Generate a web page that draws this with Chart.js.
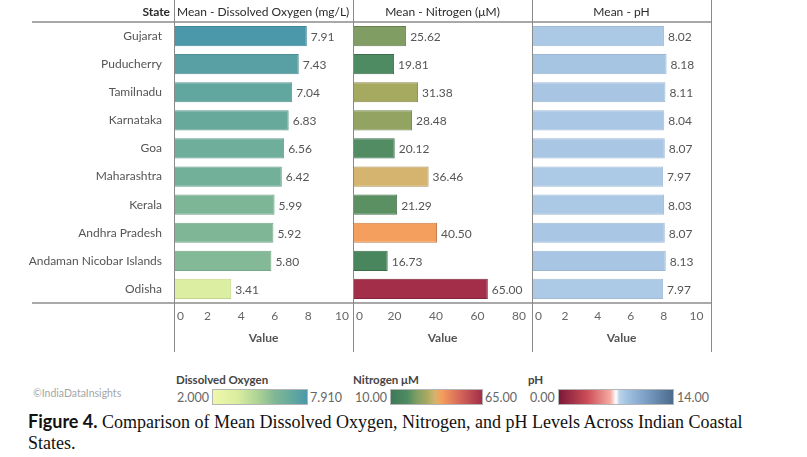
<!DOCTYPE html>
<html>
<head>
<meta charset="utf-8">
<script src="https://cdn.jsdelivr.net/npm/chart.js@4.4.1/dist/chart.umd.min.js"></script>
<style>
html,body{margin:0;padding:0;background:#fff;}
body{width:807px;height:457px;overflow:hidden;position:relative;font-family:Lato,"Noto Sans",sans-serif;}
canvas{position:absolute;top:0;}
.hl{position:absolute;height:2px;background:#a9a9a9;left:32px;width:680px;}
.vl{position:absolute;width:1px;background:#8a8a8a;top:0;height:352px;}
.t{position:absolute;white-space:nowrap;line-height:16px;}
.hdr{top:4px;font-size:12px;color:#2b2b2b;}
.lgt{top:372px;font-size:11.5px;font-weight:700;color:#444;}
.lgv{top:390px;font-size:12.5px;color:#666;}
.box{position:absolute;top:389px;height:16px;border:1px solid #b5b5b5;box-sizing:border-box;}
.cap{left:28px;font-family:"Liberation Serif","Times New Roman",serif;font-size:18px;color:#111;line-height:22px;}
</style>
</head>
<body>
<canvas id="cDO" width="360" height="360" style="left:0"></canvas>
<canvas id="cN" width="192" height="360" style="left:347px"></canvas>
<canvas id="cPH" width="192" height="360" style="left:526px"></canvas>

<div class="hl" style="top:21px"></div>
<div class="hl" style="top:302px"></div>
<div class="vl" style="left:174px"></div>
<div class="vl" style="left:353px"></div>
<div class="vl" style="left:532px"></div>
<div class="vl" style="left:711px"></div>

<div class="t hdr" style="right:637px;font-weight:700;">State</div>
<div class="t hdr" style="left:177px;">Mean - Dissolved Oxygen (mg/L)</div>
<div class="t hdr" style="left:353px;width:179px;text-align:center;">Mean - Nitrogen (μM)</div>
<div class="t hdr" style="left:532px;width:179px;text-align:center;">Mean - pH</div>

<div class="t" style="left:33px;top:385px;font-size:10.5px;color:#a5a5a5;">©IndiaDataInsights</div>

<div class="t lgt" style="left:176px;">Dissolved Oxygen</div>
<div class="t lgv" style="left:177px;" id="lgDOmin"></div>
<div class="box" id="boxDO" style="left:212px;width:96px;"></div>
<div class="t lgv" style="left:310px;" id="lgDOmax"></div>

<div class="t lgt" style="left:353px;">Nitrogen μM</div>
<div class="t lgv" style="left:355px;" id="lgNmin"></div>
<div class="box" id="boxN" style="left:390px;width:93px;"></div>
<div class="t lgv" style="left:485px;" id="lgNmax"></div>

<div class="t lgt" style="left:528px;">pH</div>
<div class="t lgv" style="left:530px;" id="lgPHmin"></div>
<div class="box" id="boxPH" style="left:558px;width:116px;"></div>
<div class="t lgv" style="left:677px;" id="lgPHmax"></div>

<div class="t cap" style="top:410px;"><span style="font-family:Lato,sans-serif;font-weight:700;">Figure 4.</span> Comparison of Mean Dissolved Oxygen, Nitrogen, and pH Levels Across Indian Coastal</div>
<div class="t cap" style="top:432px;">States.</div>

<script>
// ---------------- data ----------------
const states = ["Gujarat","Puducherry","Tamilnadu","Karnataka","Goa","Maharashtra","Kerala","Andhra Pradesh","Andaman Nicobar Islands","Odisha"];
const dissolvedOxygen = [7.91,7.43,7.04,6.83,6.56,6.42,5.99,5.92,5.80,3.41];
const nitrogen = [25.62,19.81,31.38,28.48,20.12,36.46,21.29,40.50,16.73,65.00];
const phValues = [8.02,8.18,8.11,8.04,8.07,7.97,8.03,8.07,8.13,7.97];

const doTicks = [0,2,4,6,8,10];
const nTicks = [0,20,40,60,80];
const phTicks = [0,2,4,6,8,10];

const doRange = [2.000, 7.910];
const nRange = [10.00, 65.00];
const phRange = [0.00, 14.00];

// ---------------- colour scales ----------------
const doStops = [[0,'#eff7ab'],[0.25,'#dbeea0'],[0.5,'#a8d094'],[0.65,'#81b896'],[0.8,'#6aac9b'],[1,'#4b98aa']];
const nStops = [[0,'#3c7a57'],[0.18,'#4f8b62'],[0.28,'#7f9e64'],[0.39,'#a6a960'],[0.48,'#d3b46e'],[0.55,'#f5a05e'],[0.75,'#d6685a'],[1,'#a32e49']];
const phStops = [[0,'#7c1838'],[0.25,'#cc4e58'],[0.45,'#f5aaa2'],[0.5,'#ffffff'],[0.53,'#bcd3eb'],[0.6,'#a0c1e1'],[0.8,'#7396bd'],[1,'#4b6a8b']];

function hex2rgb(h){return [parseInt(h.substr(1,2),16),parseInt(h.substr(3,2),16),parseInt(h.substr(5,2),16)];}
function colorAt(stops,t){
  t=Math.max(0,Math.min(1,t));
  for(let i=1;i<stops.length;i++){
    if(t<=stops[i][0]){
      const a=stops[i-1],b=stops[i];const f=(t-a[0])/(b[0]-a[0]||1);
      const ca=hex2rgb(a[1]),cb=hex2rgb(b[1]);
      return ca.map((v,k)=>Math.round(v+(cb[k]-v)*f));
    }
  }
  return hex2rgb(stops[stops.length-1][1]);
}
const rgb=(c)=>`rgb(${c[0]},${c[1]},${c[2]})`;
const dark=(c,k)=>`rgb(${c.map(v=>Math.round(v*k)).join(',')})`;
function fills(vals,stops,range){return vals.map(v=>rgb(colorAt(stops,(v-range[0])/(range[1]-range[0]))));}
function borders(vals,stops,range,k){return vals.map(v=>dark(colorAt(stops,(v-range[0])/(range[1]-range[0])),k));}
function cssGrad(stops){return 'linear-gradient(to right,'+stops.map(s=>s[1]+' '+(s[0]*100)+'%').join(',')+')';}

document.getElementById('boxDO').style.background=cssGrad(doStops);
document.getElementById('boxN').style.background=cssGrad(nStops);
document.getElementById('boxPH').style.background=cssGrad(phStops);
document.getElementById('lgDOmin').textContent=doRange[0].toFixed(3);
document.getElementById('lgDOmax').textContent=doRange[1].toFixed(3);
document.getElementById('lgNmin').textContent=nRange[0].toFixed(2);
document.getElementById('lgNmax').textContent=nRange[1].toFixed(2);
document.getElementById('lgPHmin').textContent=phRange[0].toFixed(2);
document.getElementById('lgPHmax').textContent=phRange[1].toFixed(2);

// ---------------- charts ----------------
Chart.defaults.font.family = 'Lato, "Noto Sans", sans-serif';
Chart.defaults.font.size = 12;

const valueLabels = {
  id:'valueLabels',
  afterDatasetsDraw(chart){
    const ctx=chart.ctx, ds=chart.data.datasets[0], meta=chart.getDatasetMeta(0);
    ctx.save();
    ctx.font='12px Lato, "Noto Sans", sans-serif';
    ctx.fillStyle='#555';
    ctx.textAlign='left';ctx.textBaseline='middle';
    meta.data.forEach((bar,i)=>{ctx.fillText(ds.data[i].toFixed(2),bar.x+4,bar.y+1);});
    ctx.restore();
  }
};

function makeChart(id, values, tickVals, axisMax, showCats, leftW, padLeft, bg, bd){
  return new Chart(document.getElementById(id),{
    type:'bar',
    data:{labels:states,datasets:[{data:values,backgroundColor:bg,borderColor:bd,borderWidth:1,barPercentage:0.72,categoryPercentage:1}]},
    options:{
      responsive:false,animation:false,indexAxis:'y',
      layout:{padding:{top:22,right:7,left:padLeft,bottom:0},autoPadding:false},
      plugins:{legend:{display:false},tooltip:{enabled:false}},
      scales:{
        y:{type:'category',grid:{display:false},border:{display:false},
           ticks:{display:showCats,color:'#555',padding:4,font:{size:12}},
           afterFit(s){s.width=leftW;}},
        x:{type:'linear',min:0,max:axisMax,grid:{display:false,drawTicks:false},border:{display:false},
           afterBuildTicks(s){s.ticks=tickVals.concat([axisMax]).map(v=>({value:v}));},
           ticks:{align:'inner',autoSkip:false,maxRotation:0,padding:6,color:'#666',font:{size:12},
             callback:(v)=> v===axisMax ? '' : (v===0 ? ' 0' : String(v))},
           title:{display:true,text:'Value',color:'#555',font:{size:12,weight:'bold'},padding:{top:4,bottom:15}},
           afterFit(s){s.height=57;}}
      }
    },
    plugins:[valueLabels]
  });
}

makeChart('cDO', dissolvedOxygen, doTicks, 10.66, true, 174, 0,
  fills(dissolvedOxygen,doStops,doRange), borders(dissolvedOxygen,doStops,doRange,0.9));
makeChart('cN', nitrogen, nTicks, 86.3, false, 0, 6,
  fills(nitrogen,nStops,nRange), borders(nitrogen,nStops,nRange,0.8));
makeChart('cPH', phValues, phTicks, 10.88, false, 0, 6,
  fills(phValues,phStops,phRange), borders(phValues,phStops,phRange,0.93));
</script>
</body>
</html>
